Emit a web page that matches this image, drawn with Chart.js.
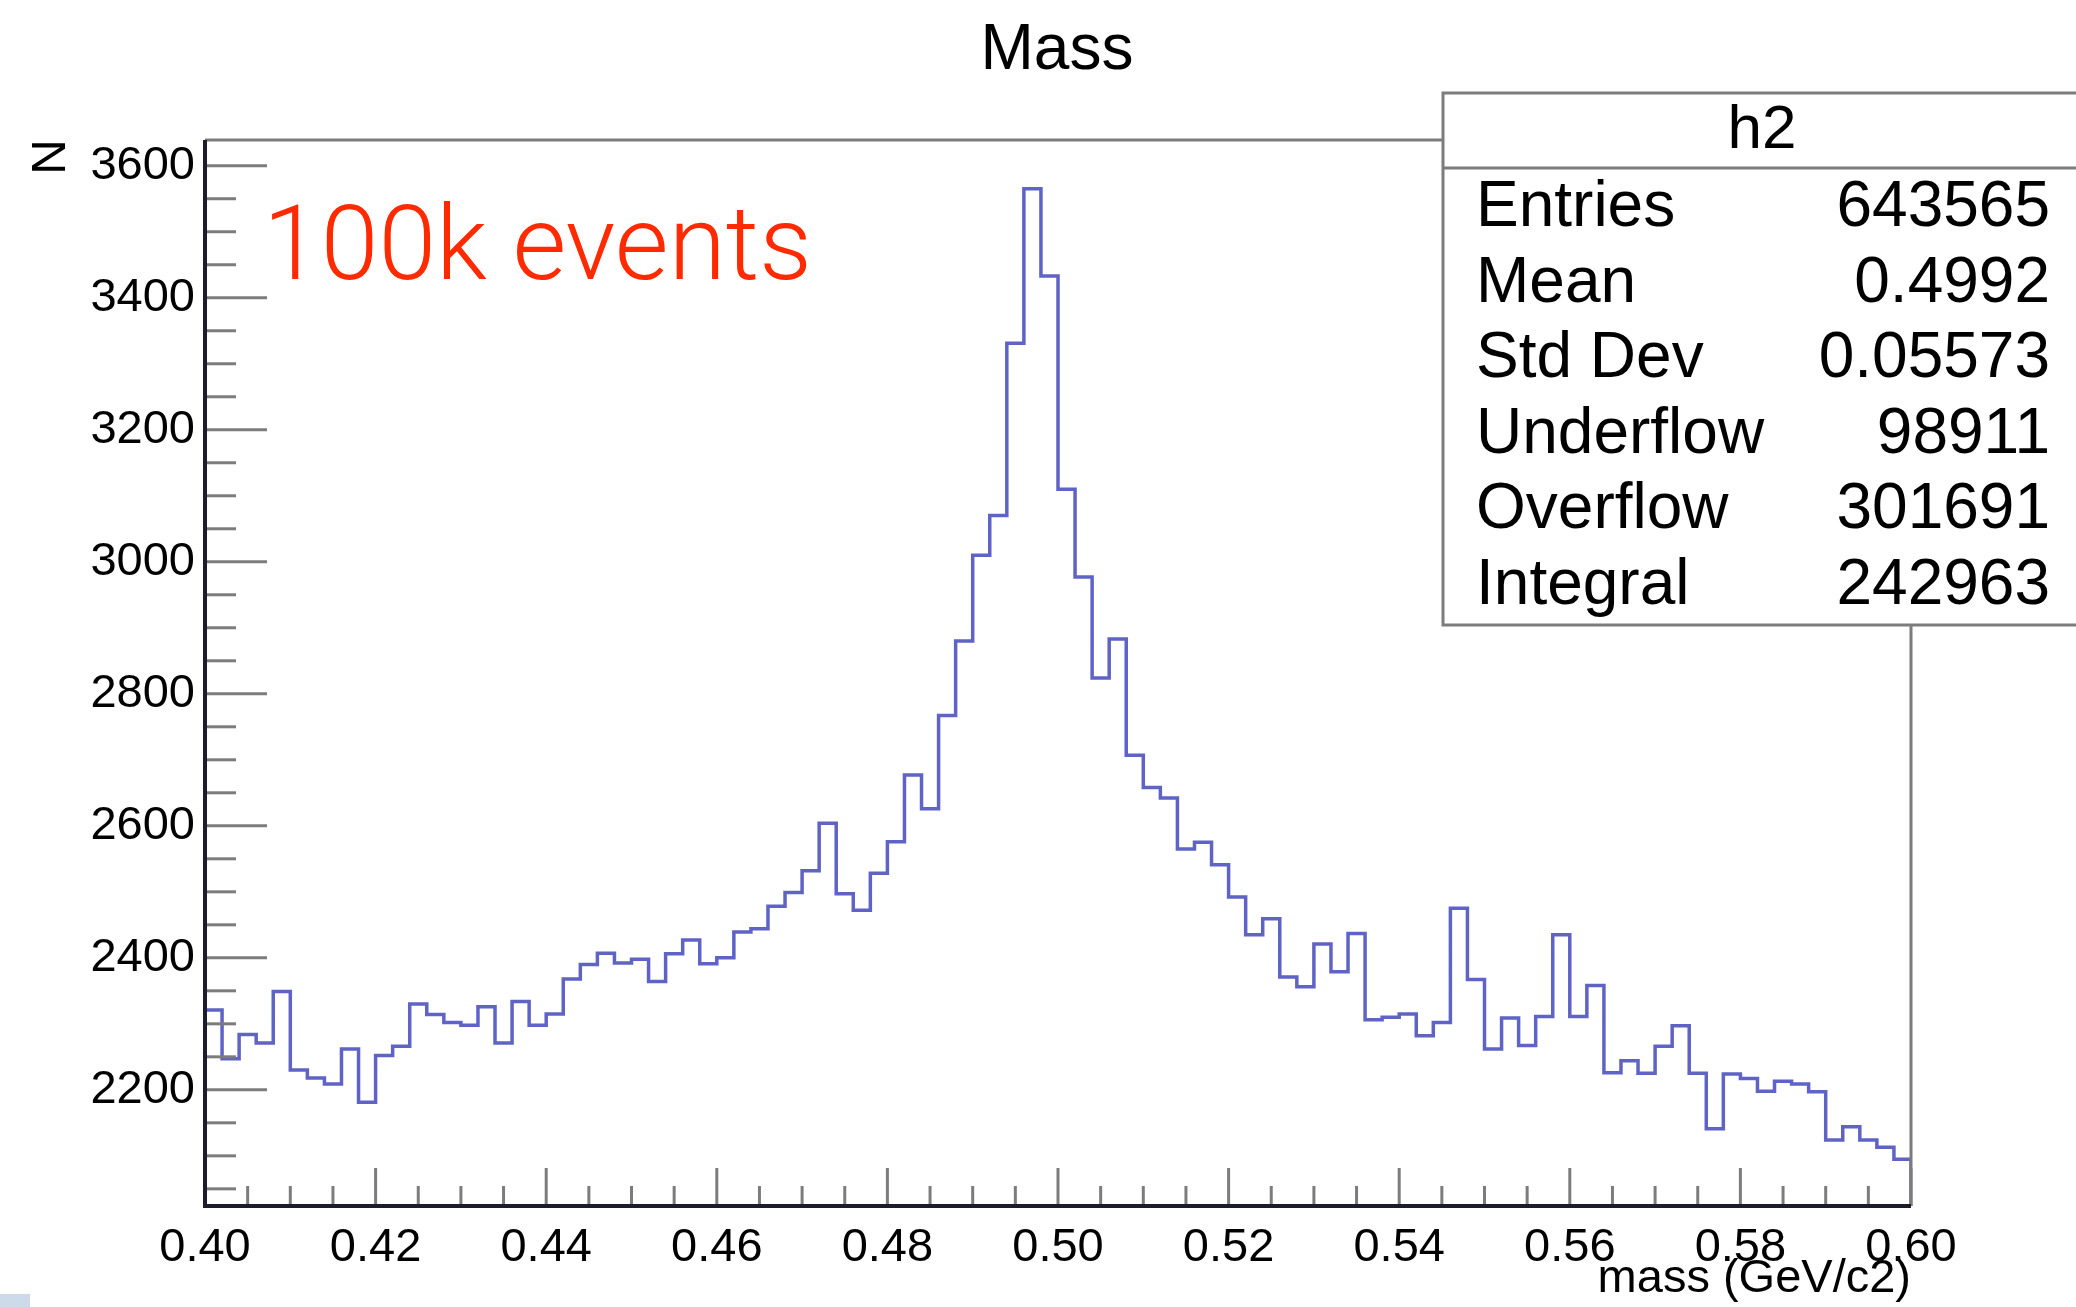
<!DOCTYPE html>
<html>
<head>
<meta charset="utf-8">
<title>Mass</title>
<script src="https://cdn.jsdelivr.net/npm/chart.js@4.4.1/dist/chart.umd.min.js"></script>
<style>
  body { margin: 0; background: #fff; }
  #chart { display: block; }
</style>
</head>
<body>
<canvas id="chart" width="2076" height="1307"></canvas>
<script>
// histogram binning (100 bins, 0.40 - 0.60)
const binLow = 0.40;
const binHigh = 0.60;
const binWidth = 0.002;

// bin contents
const counts = [
  2321, 2247, 2284, 2271, 2349, 2230, 2218, 2209, 2262, 2181,
  2252, 2266, 2330, 2314, 2302, 2298, 2326, 2271, 2334, 2298,
  2315, 2368, 2390, 2407, 2392, 2398, 2364, 2406, 2427, 2391,
  2400, 2439, 2444, 2478, 2499, 2532, 2604, 2497, 2472, 2528,
  2576, 2677, 2626, 2767, 2880, 3010, 3070, 3331, 3565, 3433,
  3110, 2977, 2824, 2883, 2707, 2658, 2642, 2565, 2575, 2541,
  2492, 2435, 2459, 2371, 2356, 2421, 2379, 2437, 2306, 2310,
  2315, 2282, 2302, 2475, 2367, 2262, 2309, 2267, 2311, 2435,
  2311, 2358, 2226, 2244, 2225, 2266, 2297, 2225, 2141, 2224,
  2217, 2198, 2213, 2209, 2197, 2124, 2144, 2124, 2113, 2095
];

const yMin = 2024;
const yMax = 3639;
const yLabels = [2200, 2400, 2600, 2800, 3000, 3200, 3400, 3600];
const xLabels = ["0.40", "0.42", "0.44", "0.46", "0.48", "0.50", "0.52", "0.54", "0.56", "0.58", "0.60"];

const statNames = ["Entries", "Mean", "Std Dev", "Underflow", "Overflow", "Integral"];
const statValues = ["643565", "0.4992", "0.05573", "98911", "301691", "242963"];

const FONT = "'Liberation Sans', Arial, Helvetica, sans-serif";
const tickGray = "#7c7c7c";

// outline points: left edge of every bin, closed down to the frame at both ends
const points = [{ x: binLow, y: yMin }];
counts.forEach((c, i) => points.push({ x: binLow + i * binWidth, y: c }));
points.push({ x: binHigh, y: counts[counts.length - 1] });
points.push({ x: binHigh, y: yMin });

const isMajorX = (v) => Math.round(v * 1000) % 20 === 0;
const isMajorY = (v) => yLabels.includes(v);

// ROOT style frame: ticks inside, stats box, titles
const rootFrame = {
  id: "rootFrame",
  afterDraw(chart) {
    const ctx = chart.ctx;
    const area = chart.chartArea;
    const xs = chart.scales.x;
    const ys = chart.scales.y;
    ctx.save();

    // tick marks
    ctx.strokeStyle = tickGray;
    ctx.lineWidth = 3;
    ys.ticks.forEach((t) => {
      const py = ys.getPixelForValue(t.value);
      const len = isMajorY(t.value) ? 62 : 31;
      ctx.beginPath();
      ctx.moveTo(area.left, py);
      ctx.lineTo(area.left + len, py);
      ctx.stroke();
    });
    xs.ticks.forEach((t) => {
      const px = xs.getPixelForValue(t.value);
      const len = isMajorX(t.value) ? 38 : 20;
      ctx.beginPath();
      ctx.moveTo(px, area.bottom);
      ctx.lineTo(px, area.bottom - len);
      ctx.stroke();
    });

    // frame
    ctx.beginPath();
    ctx.moveTo(area.left, area.top);
    ctx.lineTo(area.right, area.top);
    ctx.lineTo(area.right, area.bottom);
    ctx.stroke();
    ctx.strokeStyle = "#1c1c2a";
    ctx.lineWidth = 4;
    ctx.beginPath();
    ctx.moveTo(area.left, area.top);
    ctx.lineTo(area.left, area.bottom);
    ctx.lineTo(area.right, area.bottom);
    ctx.stroke();

    // stats box
    const bx = 1443, by = 93, bw = 700, bh = 532;
    ctx.fillStyle = "#fff";
    ctx.fillRect(bx, by, bw, bh);
    ctx.strokeStyle = tickGray;
    ctx.lineWidth = 3;
    ctx.strokeRect(bx, by, bw, bh);
    ctx.beginPath();
    ctx.moveTo(bx, 168);
    ctx.lineTo(bx + bw, 168);
    ctx.stroke();

    ctx.fillStyle = "#000";
    ctx.font = "62px " + FONT;
    ctx.textAlign = "center";
    ctx.textBaseline = "alphabetic";
    ctx.fillText("h2", 1762, 148);

    ctx.font = "64px " + FONT;
    statNames.forEach((name, i) => {
      const base = 226 + i * 75.6;
      ctx.textAlign = "left";
      ctx.fillText(name, 1476, base);
      ctx.textAlign = "right";
      ctx.fillText(statValues[i], 2050, base);
    });

    // title
    ctx.textAlign = "center";
    ctx.font = "64px " + FONT;
    ctx.fillText("Mass", 1057, 69);

    // axis titles
    ctx.font = "47px " + FONT;
    ctx.textAlign = "right";
    ctx.fillText("mass (GeV/c2)", area.right, 1292);

    ctx.save();
    ctx.translate(65, 157);
    ctx.rotate(-Math.PI / 2);
    ctx.textAlign = "center";
    ctx.font = "49px " + FONT;
    ctx.fillText("N", 0, 0);
    ctx.restore();

    // annotation
    ctx.fillStyle = "#ff2a00";
    ctx.textAlign = "left";
    ctx.font = "300 104px 'Roboto Light', 'Open Sans Light', 'Lato Light', Roboto, sans-serif";
    ctx.fillText("100k events", 263, 279);

    // small mark in the corner of the screenshot
    ctx.fillStyle = "#cddaea";
    ctx.fillRect(0, 1294, 30, 13);

    ctx.restore();
  }
};

new Chart(document.getElementById("chart"), {
  type: "line",
  data: {
    datasets: [{
      data: points,
      stepped: true,
      borderColor: "#5f63c6",
      borderWidth: 3.5,
      pointRadius: 0,
      fill: false,
      tension: 0
    }]
  },
  options: {
    responsive: false,
    animation: false,
    events: [],
    layout: { padding: { top: 140, right: 165, left: 0, bottom: 0 } },
    plugins: {
      legend: { display: false },
      tooltip: { enabled: false },
      title: { display: false }
    },
    scales: {
      x: {
        type: "linear",
        min: binLow,
        max: binHigh,
        grid: { display: false, drawTicks: false },
        border: { display: false },
        afterBuildTicks: (scale) => {
          const ticks = [];
          for (let i = 0; i <= 40; i++) {
            ticks.push({ value: Math.round((binLow + i * 0.005) * 1000) / 1000 });
          }
          scale.ticks = ticks;
        },
        ticks: {
          autoSkip: false,
          maxRotation: 0,
          padding: 14,
          color: "#000",
          font: { family: FONT, size: 47 },
          callback: (v) => {
            const lbl = Number(v).toFixed(2);
            return isMajorX(v) && xLabels.includes(lbl) ? lbl : "";
          }
        },
        afterFit: (scale) => { scale.height = 101; }
      },
      y: {
        type: "linear",
        min: yMin,
        max: yMax,
        grid: { display: false, drawTicks: false },
        border: { display: false },
        afterBuildTicks: (scale) => {
          const ticks = [];
          for (let v = 2050; v <= 3600; v += 50) ticks.push({ value: v });
          scale.ticks = ticks;
        },
        ticks: {
          autoSkip: false,
          padding: 10,
          color: "#000",
          font: { family: FONT, size: 47 },
          callback: (v) => (isMajorY(v) ? String(v) : "")
        },
        afterFit: (scale) => { scale.width = 205; }
      }
    }
  },
  plugins: [rootFrame]
});
</script>
</body>
</html>
